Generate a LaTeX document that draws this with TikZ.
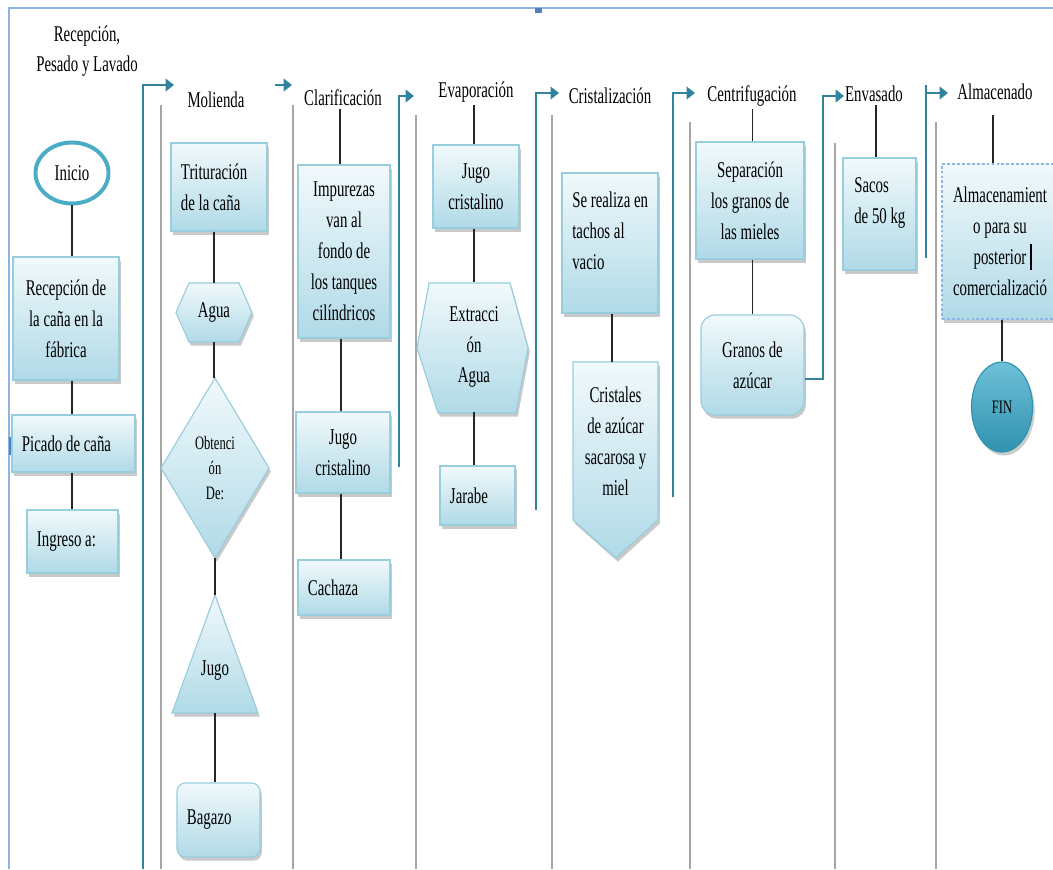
\documentclass[tikz,border=0pt]{standalone}
\usepackage{fontspec}
\setmainfont{Liberation Serif}[FakeStretch=0.66]
\usepackage{tikz}
\usetikzlibrary{positioning, arrows.meta, shapes.geometric, shadows, calc}

\definecolor{boxtop}{RGB}{241,249,251}
\definecolor{boxbot}{RGB}{176,218,231}
\definecolor{boxline}{RGB}{152,205,221}
\definecolor{flowteal}{RGB}{49,132,155}
\definecolor{startteal}{RGB}{75,172,198}
\definecolor{fintop}{RGB}{110,192,216}
\definecolor{finbot}{RGB}{48,146,174}
\definecolor{lanegray}{RGB}{165,165,165}
\definecolor{framebl}{RGB}{141,180,226}
\definecolor{handlebl}{RGB}{79,129,189}

\begin{document}
\begin{tikzpicture}[x=0.025cm, y=-0.025cm,
  font=\fontsize{16}{22}\selectfont,
  box/.style={draw=boxline, line width=0.8pt, top color=boxtop, bottom color=boxbot,
    drop shadow={shadow xshift=1.3pt, shadow yshift=-2.6pt, opacity=0.42},
    align=center, inner sep=2pt},
  lbox/.style={box, align=flush left, inner xsep=0.25cm, text width=#1},
  shp/.style={draw=boxline, line width=0.8pt, top color=boxtop, bottom color=boxbot,
    drop shadow={shadow xshift=1.3pt, shadow yshift=-2.6pt, opacity=0.42}},
  slot/.style={inner sep=0pt, align=center},
  lanetitle/.style={align=center, inner sep=2pt},
  conn/.style={draw=black!85, line width=0.9pt},
  lane/.style={draw=lanegray, line width=1.2pt},
  flow/.style={draw=flowteal, line width=1.4pt},
  flowarr/.style={flow, -{Triangle[length=6pt, width=9pt]}},
]
  % Page and frame
  \fill[white] (0,0) rectangle (1053,869);
  \useasboundingbox (0,0) rectangle (1053,869);
  \draw[framebl, line width=1.3pt] (9,869) -- (9,8) -- (1053,8);
  \fill[handlebl] (535,8) rectangle (542,13);
  \fill[handlebl] (9,437) rectangle (15,455);

  % Lane separators
  \foreach \x/\y in {161/105, 293/105, 416/115, 552/115, 690/122, 835/143, 936/122}
    \draw[lane] (\x,\y) -- (\x,869);

  % Lane titles
  \node[lanetitle, font=\fontsize{16}{21}\selectfont] (trec) at (87,51) {Recepción,\\Pesado y Lavado};
  \node[lanetitle] (tmol) at (216,100) {Molienda};
  \node[lanetitle] (tclar) at (343,98) {Clarificación};
  \node[lanetitle] (tevap) at (476,92) {Evaporación};
  \node[lanetitle] (tcris) at (610,96) {Cristalización};
  \node[lanetitle] (tcen) at (752,96) {Centrifugación};
  \node[lanetitle] (tenv) at (874,94) {Envasado};
  \node[lanetitle] (talm) at (995,92) {Almacenado};

  % Recepcion, pesado y lavado
  \node[ellipse, draw=startteal, line width=2.8pt, fill=white, inner sep=0pt,
    minimum width=1.825cm, minimum height=1.525cm] (inicio) at (72,173) {Inicio};
  \node[box, minimum width=2.65cm, minimum height=3.075cm] (recep) at (66,318.5)
    {Recepción de\\la caña en la\\fábrica};
  \node[lbox=2.575cm, minimum height=1.425cm] (picado) at (73.5,443.5) {Picado de caña};
  \node[lbox=1.775cm, minimum height=1.575cm] (ingreso) at (72.5,541.5) {Ingreso a:};
  \draw[conn] (inicio.south) -- (inicio.south |- recep.north);
  \draw[conn] (inicio.south |- recep.south) -- (inicio.south |- picado.north);
  \draw[conn] (inicio.south |- picado.south) -- (inicio.south |- ingreso.north);

  % Molienda
  \node[lbox=1.9cm, minimum height=2.2cm] (trit) at (219,187) {Trituración\\de la caña};
  \path[shp] (176,312.5) -- (189,283) -- (239,283) -- (252,312.5) -- (239,342) -- (189,342) -- cycle;
  \node[slot, minimum width=1.9cm, minimum height=1.475cm] (agua) at (214,312.5) {Agua};
  \path[shp] (215,378) -- (269,468) -- (215,558) -- (161,468) -- cycle;
  \node[slot, minimum width=2.7cm, minimum height=4.5cm,
    font=\fontsize{13.5}{18}\selectfont] (obt) at (215,468) {Obtenci\\ón\\De:};
  \path[shp] (215,595) -- (258,713) -- (172,713) -- cycle;
  \node[slot, minimum width=2.15cm, minimum height=2.95cm,
    text height=33pt, text depth=3pt] (jugo2) at (215,654) {Jugo};
  \node[lbox=1.575cm, rounded corners=6pt, minimum height=1.85cm] (bagazo) at (218.5,820) {Bagazo};
  \draw[conn] (trit.south -| agua) -- (agua.north);
  \draw[conn] (agua.south) -- (agua.south |- obt.north);
  \draw[conn] (obt.south) -- (obt.south |- jugo2.north);
  \draw[conn] (jugo2.south) -- (jugo2.south |- bagazo.north);

  % Clarificacion
  \node[box, minimum width=2.3cm, minimum height=4.325cm] (impur) at (344,251.5)
    {Impurezas\\van al\\fondo de\\los tanques\\cilíndricos};
  \node[box, minimum width=2.35cm, minimum height=2.025cm] (jugo3) at (343,452.5) {Jugo\\cristalino};
  \node[lbox=1.8cm, minimum height=1.375cm] (cachaza) at (344,587.5) {Cachaza};
  \draw[conn] (tclar.south -| 340,0) -- (impur.north -| 340,0);
  \draw[conn] (impur.south -| 341,0) -- (jugo3.north -| 341,0);
  \draw[conn] (jugo3.south -| 341,0) -- (cachaza.north -| 341,0);

  % Evaporacion
  \node[box, minimum width=2.15cm, minimum height=2.075cm] (jugo4) at (476,186.5) {Jugo\\cristalino};
  \path[shp] (429,283) -- (510,283) -- (528,348) -- (516,413) -- (438,413) -- (417,348) -- cycle;
  \node[slot, minimum width=2.775cm, minimum height=3.25cm] (extr) at (474,347) {Extracci\\ón\\Agua};
  \node[lbox=1.375cm, minimum height=1.475cm] (jarabe) at (477.5,495.5) {Jarabe};
  \draw[conn] (tevap.south -| extr) -- (jugo4.north -| extr);
  \draw[conn] (jugo4.south -| extr) -- (extr.north);
  \draw[conn] (extr.south) -- (jarabe.north -| extr);

  % Cristalizacion
  \node[box, minimum width=2.4cm, minimum height=3.5cm] (tachos) at (610,243) {};
  \node[anchor=north west, align=left, inner sep=0pt] (ttachos) at (572,192)
    {Se realiza en\\tachos al\\vacio};
  \path[shp] (573,362) -- (658,362) -- (658,520) -- (616,558) -- (573,520) -- cycle;
  \node[slot, minimum width=2.125cm, minimum height=3.95cm] (crist) at (615.5,441)
    {Cristales\\de azúcar\\sacarosa y\\miel};
  \draw[conn] (tachos.south -| 612,0) -- (crist.north -| 612,0);

  % Centrifugacion
  \node[box, minimum width=2.7cm, minimum height=2.925cm] (separ) at (750,200.5)
    {Separación\\los granos de\\las mieles};
  \node[box, rounded corners=10pt, minimum width=2.575cm, minimum height=2.5cm] (granos)
    at (752.5,365) {Granos de\\azúcar};
  \draw[conn] (tcen.south -| granos) -- (separ.north -| granos);
  \draw[conn] (separ.south -| granos) -- (granos.north);

  % Envasado
  \node[box, minimum width=1.825cm, minimum height=2.8cm] (sacos) at (879.5,214) {};
  \node[anchor=north west, align=left, inner sep=0pt] (tsacos) at (854,177) {Sacos\\de 50 kg};
  \draw[conn] (tenv.south -| 876,0) -- (sacos.north -| 876,0);

  % Almacenado
  \node[box, draw=framebl, dash pattern=on 2pt off 1.5pt, minimum width=2.9cm,
    minimum height=3.875cm] (almac) at (1000,241.5)
    {Almacenamient\\o para su\\posterior\\comercializació};
  \draw[black, line width=1.8pt] (1031,244) -- (1031,270);
  \node[ellipse, draw=finbot, line width=0.8pt, top color=fintop, bottom color=finbot,
    drop shadow={shadow xshift=1.5pt, shadow yshift=-2.5pt, opacity=0.4},
    minimum width=1.525cm, minimum height=2.25cm, inner sep=0pt,
    font=\fontsize{13.5}{18}\selectfont] (fin) at (1002,407) {FIN};
  \draw[conn] (talm.south -| 993,0) ++(0,12) -- (almac.north -| 993,0);
  \draw[conn] (almac.south -| fin) -- (fin.north);

  % Flow between lanes
  \foreach \n/\x/\ya/\yb/\xt in {1/143/869/85/174, 3/399/467/96/414,
                                 4/536/510/93/559, 5/673/497/93/695} {
    \coordinate (fb\n) at (\x,\ya);
    \coordinate (ft\n) at (\xt,\yb);
    \draw[flowarr] (fb\n) |- (ft\n);
  }
  \coordinate (fb2) at (275,85);
  \coordinate (ft2) at (292,85);
  \draw[flowarr] (fb2) -- (ft2);
  \coordinate (ft6) at (844,96);
  \draw[flowarr] (granos.east |- 0,379) -- ++(18,0) |- (ft6);
  \coordinate (fb7) at (926,258);
  \coordinate (fc7) at (926,85);
  \coordinate (ft7) at (948,93);
  \draw[flow] (fc7) -- (fb7);
  \draw[flowarr] (fc7 |- ft7) -- (ft7);
\end{tikzpicture}
\end{document}
